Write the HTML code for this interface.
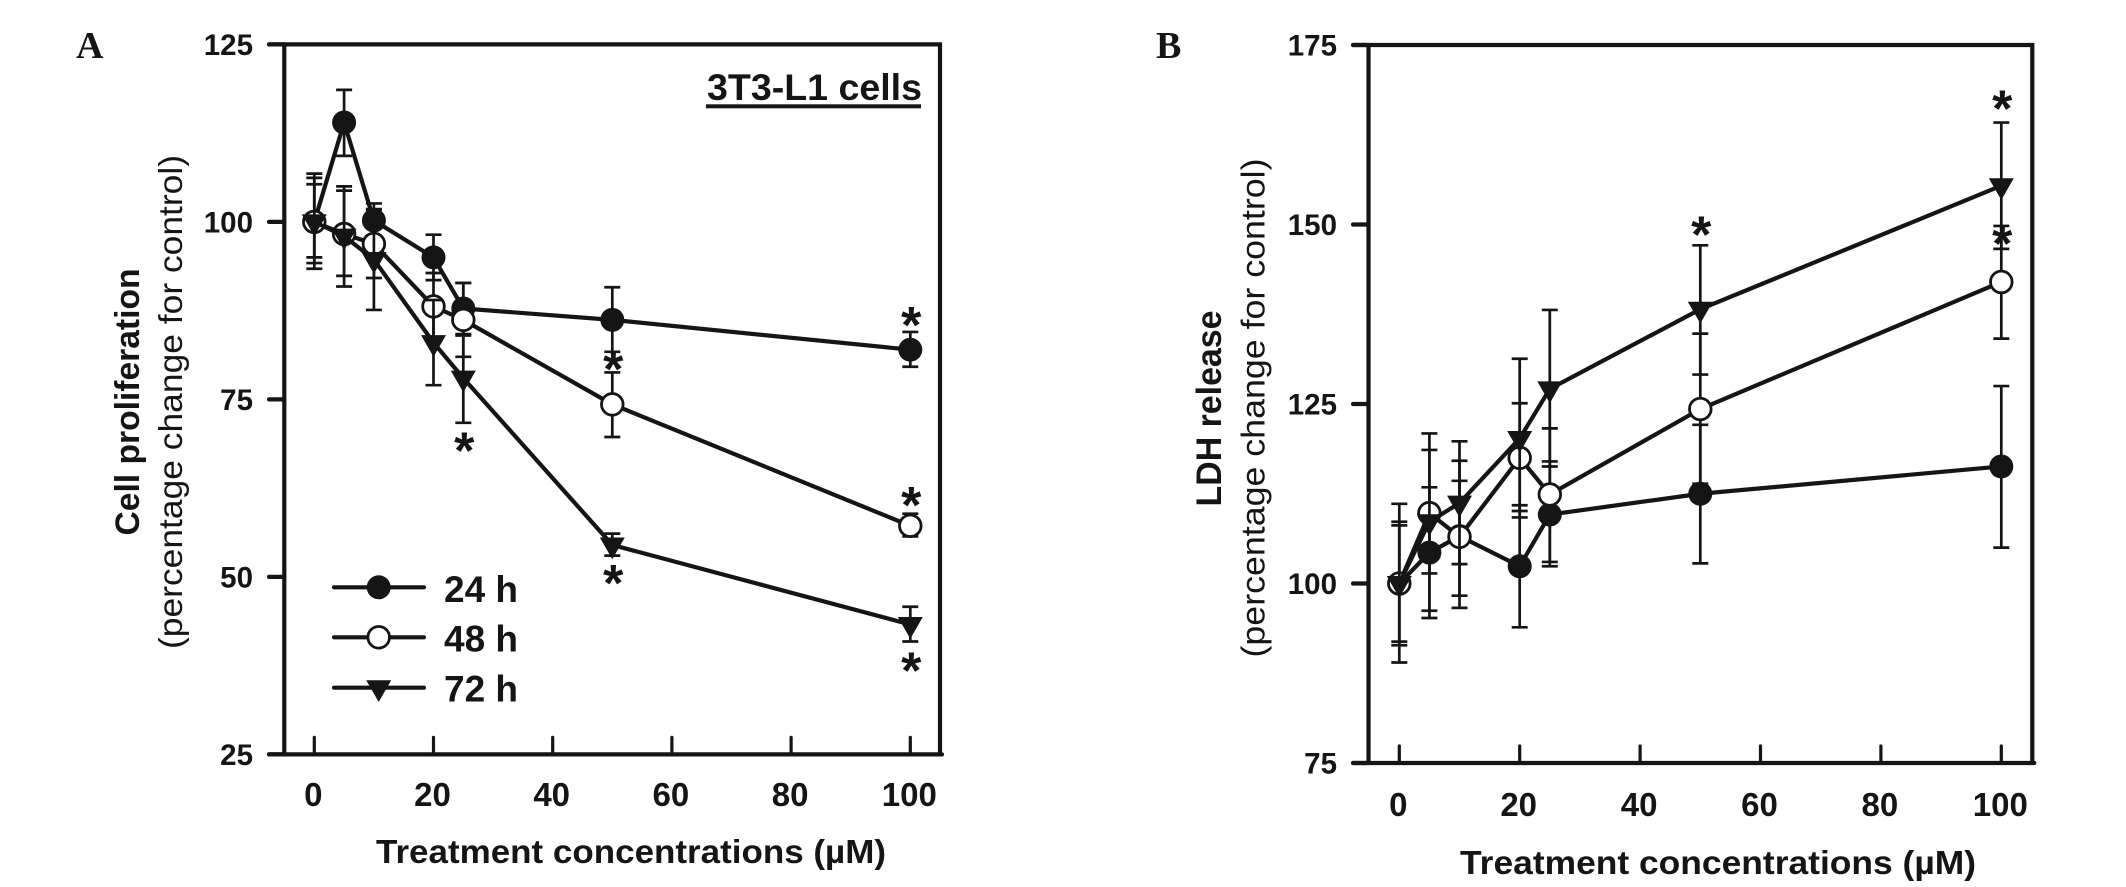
<!DOCTYPE html>
<html lang="en">
<head>
<meta charset="utf-8">
<title>Cell proliferation and LDH release charts</title>
<style>
html,body{margin:0;padding:0;background:#fff;}
body{width:2126px;height:887px;overflow:hidden;}
svg{display:block;}
text{font-family:"Liberation Sans",Arial,sans-serif;fill:#151515;}
.tick{font-weight:700;}
.serif{font-family:"Liberation Serif","Times New Roman",serif;font-weight:700;}
</style>
</head>
<body>
<svg id="figure" xmlns="http://www.w3.org/2000/svg" width="2126" height="887" viewBox="0 0 2126 887">
  <rect x="0" y="0" width="2126" height="887" fill="#ffffff"/>
  <text class="serif" x="76" y="58" font-size="38">A</text>
  <text class="serif" x="1156" y="58" font-size="38">B</text>

  <g id="panel-a"></g>
  <g id="panel-b"></g>

  <text transform="translate(139,402) rotate(-90)" text-anchor="middle" font-size="34" font-weight="700" textLength="267" lengthAdjust="spacingAndGlyphs">Cell proliferation</text>
  <text transform="translate(182,402) rotate(-90)" text-anchor="middle" font-size="33" textLength="494" lengthAdjust="spacingAndGlyphs">(percentage change for control)</text>
  <text x="376" y="863" font-size="33" font-weight="700" textLength="510" lengthAdjust="spacingAndGlyphs">Treatment concentrations (µM)</text>

  <text transform="translate(1221,408.5) rotate(-90)" text-anchor="middle" font-size="35" font-weight="700" textLength="196" lengthAdjust="spacingAndGlyphs">LDH release</text>
  <text transform="translate(1264.5,408) rotate(-90)" text-anchor="middle" font-size="33" textLength="499" lengthAdjust="spacingAndGlyphs">(percentage change for control)</text>
  <text x="1460" y="874" font-size="33" font-weight="700" textLength="516" lengthAdjust="spacingAndGlyphs">Treatment concentrations (µM)</text>

  <text x="707" y="100" font-size="37" font-weight="700" textLength="215" lengthAdjust="spacingAndGlyphs">3T3-L1 cells</text>
  <rect x="706" y="104.3" width="215" height="4" fill="#151515"/>

  <g>
    <g>
      <line x1="334" y1="587.3" x2="424" y2="587.3" stroke="#151515" stroke-width="4.2" stroke-linecap="round"/>
      <circle cx="378.7" cy="587.3" r="12" fill="#151515"/>
      <text x="444" y="602" font-size="37" font-weight="700">24 h</text>
    </g>
    <g>
      <line x1="334" y1="637.3" x2="424" y2="637.3" stroke="#151515" stroke-width="4.2" stroke-linecap="round"/>
      <circle cx="378.7" cy="637.3" r="10.8" fill="#fff" stroke="#151515" stroke-width="2.8"/>
      <text x="444" y="651.7" font-size="37" font-weight="700">48 h</text>
    </g>
    <g>
      <line x1="334" y1="687.7" x2="424" y2="687.7" stroke="#151515" stroke-width="4.2" stroke-linecap="round"/>
      <polygon points="366.2,680.2 391.2,680.2 378.7,702" fill="#151515"/>
      <text x="444" y="701.7" font-size="37" font-weight="700">72 h</text>
    </g>
  </g>
</svg>

<script>
// Shared categories
const concentrations = [0, 5, 10, 20, 25, 50, 100];
const xTickValues = [0, 20, 40, 60, 80, 100];

// Panel A: cell proliferation
const aYTicks = [25, 50, 75, 100, 125];
const a24Mean = [100, 114, 100.2, 95, 87.8, 86.2, 82];
const a24Upper = [106.8, 118.6, 102.6, 98.2, 91.4, 90.8, 84.5];
const a24Lower = [93.4, 109.3, 97.8, 91.8, 84.2, 81.7, 79.6];
const a48Mean = [100, 98.3, 96.9, 88.1, 86.2, 74.3, 57.2];
const a48Upper = [106.2, 105, 101.7, 92.8, 91.4, 78.8, 58.9];
const a48Lower = [94.2, 90.9, 92.1, 83.4, 81, 69.7, 55.7];
const a72Mean = [100, 98, 94.7, 83, 78, 54.5, 43.3];
const a72Upper = [105.3, 104.4, 101.8, 89, 84, 56.1, 45.8];
const a72Lower = [95, 92.4, 87.6, 77, 71.7, 53, 40.9];
const aStarConc = [25, 50, 50, 100, 100, 100];
const aStarLevel = [68.8, 50.1, 80.3, 86.5, 61.1, 37.8];

// Panel B: LDH release
const bYTicks = [75, 100, 125, 150, 175];
const b24Mean = [100, 104.3, 106.6, 102.4, 109.6, 112.5, 116.3];
const b24Upper = [108.1, 113.4, 117.1, 110.9, 117, 122.1, 127.5];
const b24Lower = [91.9, 95.2, 96.6, 93.9, 102.4, 102.8, 105];
const b48Mean = [100, 109.8, 106.5, 117.5, 112.4, 124.3, 142];
const b48Upper = [108.6, 118.6, 114.3, 125.1, 121.6, 134.8, 149.8];
const b48Lower = [91.4, 101.4, 98.3, 110.1, 103, 113.9, 134.1];
const b72Mean = [100, 108.6, 111.2, 120.2, 127.1, 138.2, 155.4];
const b72Upper = [111.1, 120.9, 119.8, 131.3, 138.1, 147.1, 164.2];
const b72Lower = [89, 96.2, 102.7, 109.2, 116.3, 129.1, 146.6];
const bStarConc = [50, 100, 100];
const bStarLevel = [149.6, 148.3, 167.1];

const INK = '#151515';
const NS = 'http://www.w3.org/2000/svg';

function shape(parent, tag, props) {
  const node = document.createElementNS(NS, tag);
  for (const key in props) node.setAttribute(key, props[key]);
  parent.appendChild(node);
  return node;
}

function drawPanel(cfg) {
  const g = document.getElementById(cfg.id);
  const xOf = v => cfg.x0 + v * cfg.xScale;
  const yOf = v => cfg.yTop + (cfg.yMax - v) * cfg.yScale;
  const yBottom = yOf(cfg.yMin);

  // Frame
  const frame = shape(g, 'path', {
    d: 'M' + cfg.left + ' ' + cfg.yTop + ' V' + yBottom + ' M' + cfg.tickStart + ' ' + cfg.yTop + ' H' + cfg.right + ' V' + yBottom + ' M' + cfg.tickStart + ' ' + yBottom + ' H' + (cfg.right + 2),
    fill: 'none', stroke: INK, 'stroke-width': 4.2, 'stroke-linecap': 'round'
  });
  
  

  // Y ticks
  cfg.yTicks.forEach(v => {
    const tick = shape(g, 'line', { x1: cfg.tickStart, x2: cfg.left, y1: yOf(v), y2: yOf(v), stroke: INK, 'stroke-width': 4.2, 'stroke-linecap': 'round' });
    
    
    const label = shape(g, 'text', { x: cfg.yLabelRight, y: yOf(v) + 10.5, 'text-anchor': 'end', 'font-size': 29.5, class: 'tick' });
    label.textContent = String(v);
    
    
  });

  // X ticks
  xTickValues.forEach(v => {
    const tick = shape(g, 'line', { x1: xOf(v), x2: xOf(v), y1: yBottom - 17, y2: yBottom, stroke: INK, 'stroke-width': 3.2, 'stroke-linecap': 'round' });
    
    
    const label = shape(g, 'text', { x: xOf(v) - 1, y: cfg.xLabelBase, 'text-anchor': 'middle', 'font-size': 33, class: 'tick' });
    label.textContent = String(v);
    
    
  });

  // Series
  cfg.series.forEach(s => {
    const group = shape(g, 'g', {});
    
    

    concentrations.forEach((c, i) => {
      const bar = shape(group, 'path', {
        d: 'M' + (xOf(c) - 8) + ' ' + yOf(s.upper[i]) + ' H' + (xOf(c) + 8) + ' M' + xOf(c) + ' ' + yOf(s.upper[i]) + ' V' + yOf(s.lower[i]) + ' M' + (xOf(c) - 8) + ' ' + yOf(s.lower[i]) + ' H' + (xOf(c) + 8),
        fill: 'none', stroke: INK, 'stroke-width': 2.7
      });
      
      
    });

    const line = shape(group, 'polyline', {
      points: concentrations.map((c, i) => xOf(c) + ',' + yOf(s.mean[i])).join(' '),
      fill: 'none', stroke: INK, 'stroke-width': 4.2, 'stroke-linejoin': 'round'
    });
    
    

    concentrations.forEach((c, i) => {
      const px = xOf(c), py = yOf(s.mean[i]);
      let marker;
      if (s.name === '24h') {
        marker = shape(group, 'circle', { cx: px, cy: py, r: 12, fill: INK });
      } else if (s.name === '48h') {
        marker = shape(group, 'circle', { cx: px, cy: py, r: 10.8, fill: '#fff', stroke: INK, 'stroke-width': 2.8 });
      } else {
        marker = shape(group, 'polygon', { points: (px - 12.5) + ',' + (py - 7.5) + ' ' + (px + 12.5) + ',' + (py - 7.5) + ' ' + px + ',' + (py + 14.3), fill: INK });
      }
      
      
    });
  });

  // Significance asterisks
  cfg.starConc.forEach((c, i) => {
    const star = shape(g, 'text', { x: xOf(c) + 1, y: yOf(cfg.starLevel[i]) + 25, 'text-anchor': 'middle', 'font-size': 52, 'font-weight': 700 });
    star.textContent = '*';
    
    
  });
}

drawPanel({
  id: 'panel-a', prefix: 'panel-a',
  x0: 314.3, xScale: 5.96, left: 284.3, right: 940, tickStart: 269,
  yTop: 44.4, yMax: 125, yMin: 25, yScale: 7.1,
  yLabelRight: 253, xLabelBase: 806,
  yTicks: aYTicks, starConc: aStarConc, starLevel: aStarLevel,
  series: [
    { name: '24h', mean: a24Mean, upper: a24Upper, lower: a24Lower },
    { name: '48h', mean: a48Mean, upper: a48Upper, lower: a48Lower },
    { name: '72h', mean: a72Mean, upper: a72Upper, lower: a72Lower }
  ]
});

drawPanel({
  id: 'panel-b', prefix: 'panel-b',
  x0: 1399.3, xScale: 6.02, left: 1368.5, right: 2032.3, tickStart: 1353,
  yTop: 45, yMax: 175, yMin: 75, yScale: 7.18,
  yLabelRight: 1337, xLabelBase: 816,
  yTicks: bYTicks, starConc: bStarConc, starLevel: bStarLevel,
  series: [
    { name: '24h', mean: b24Mean, upper: b24Upper, lower: b24Lower },
    { name: '48h', mean: b48Mean, upper: b48Upper, lower: b48Lower },
    { name: '72h', mean: b72Mean, upper: b72Upper, lower: b72Lower }
  ]
});
</script>
</body>
</html>
